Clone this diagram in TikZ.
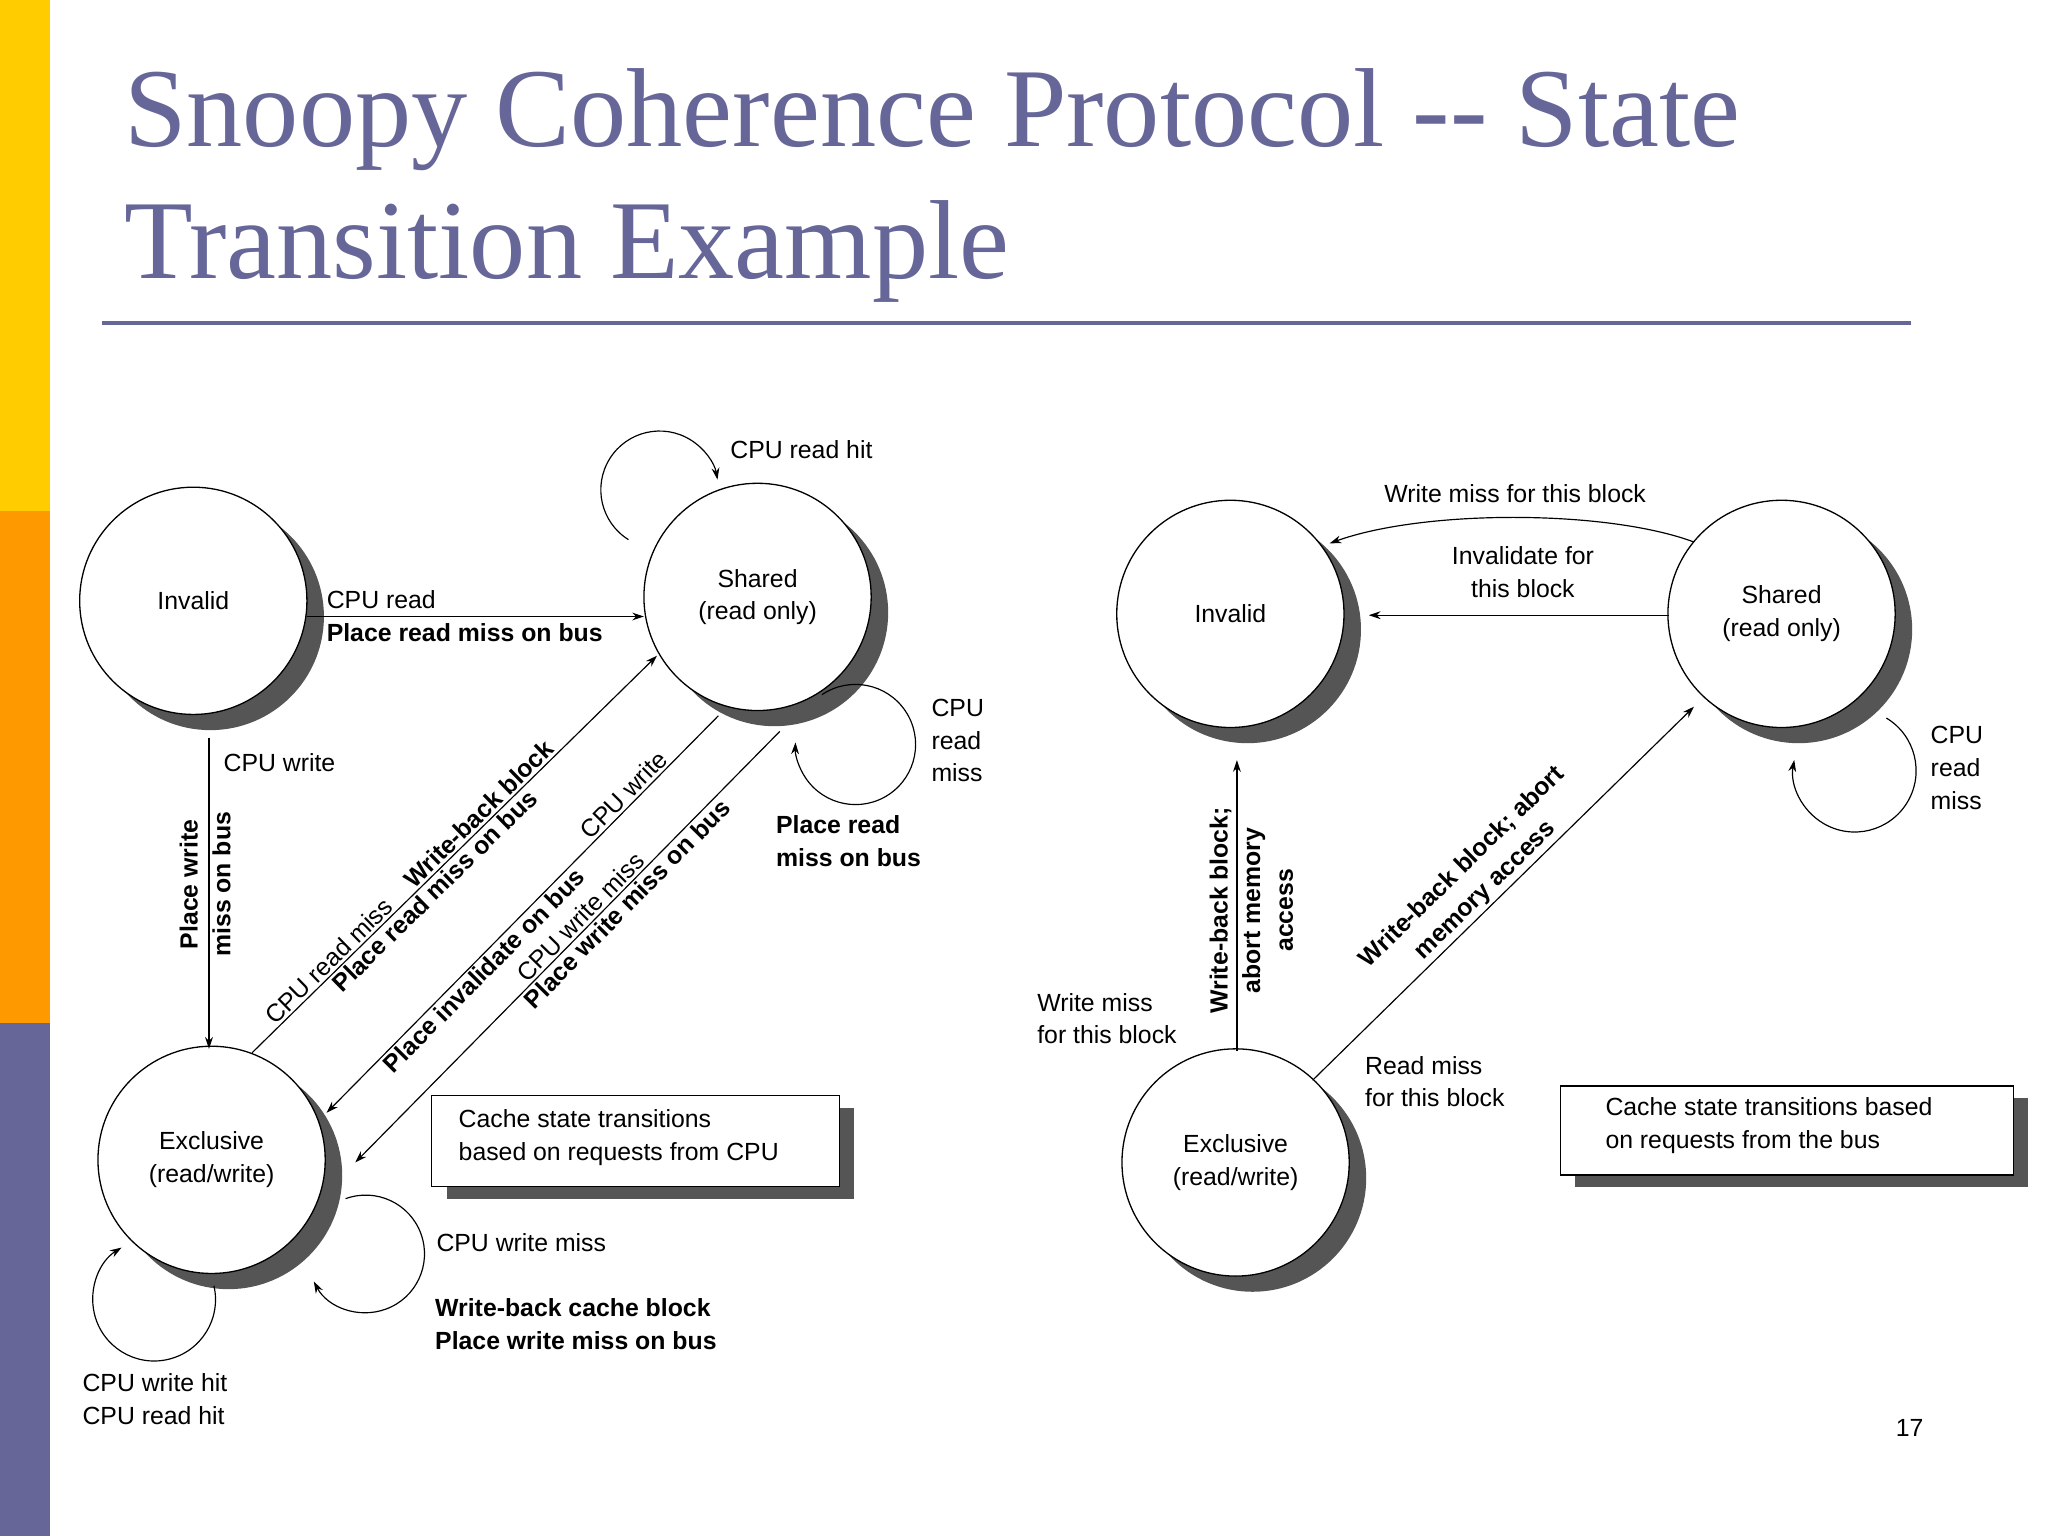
\documentclass[tikz,border=0pt]{standalone}
\usepackage{fontspec}
\setmainfont{Liberation Sans}
\newfontfamily\titlefont{Liberation Serif}
\usetikzlibrary{arrows.meta,calc}
\definecolor{slate}{HTML}{666699}
\definecolor{shadowgray}{HTML}{555555}
\definecolor{baryellow}{HTML}{FFCC00}
\definecolor{barorange}{HTML}{FF9900}
\begin{document}
\begin{tikzpicture}[x=1pt,y=-1pt,
  lbl/.style={font=\fontsize{19}{25}\selectfont,inner sep=1pt},
  blbl/.style={font=\fontsize{19}{25}\selectfont\bfseries,inner sep=1pt},
  arr/.style={-{Stealth[length=9pt,width=6pt]},line width=0.9pt},
  state/.style={circle,draw,line width=1pt,fill=white,minimum size=174pt,inner sep=0pt,align=center,font=\fontsize{19}{25}\selectfont},
  shadowc/.style={circle,fill=shadowgray,minimum size=174pt,inner sep=0pt}]
\useasboundingbox (0,0) rectangle (1568,1176);
\fill[white] (0,0) rectangle (1568,1176);
\fill[baryellow] (0,0) rectangle (38,391);
\fill[barorange] (0,391) rectangle (38,783);
\fill[slate] (0,783) rectangle (38,1176);
\node[anchor=base west,text=slate,font=\fontsize{86}{103}\titlefont,inner sep=0pt] (t1) at (95,112) {Snoopy Coherence Protocol -- State};
\node[anchor=base west,text=slate,font=\fontsize{86}{103}\titlefont,inner sep=0pt] (t2) at (95,213) {Transition Example};
\draw[slate,line width=3pt] (78,247) -- (1463,247);
% shadows
\foreach \px/\py in {148/460,580/457,162/888,942/470,1364/470,946/890}
  \node[shadowc] at (\px+13,\py+12) {};
\node[state] (inv) at (148,460) {Invalid};
\node[state] (sh) at (580,457) {Shared\\(read only)};
\node[state] (ex) at (162,888) {Exclusive\\(read/write)};
\node[state] (rinv) at (942,470) {Invalid};
\node[state] (rsh) at (1364,470) {Shared\\(read only)};
\node[state] (rex) at (946,890) {Exclusive\\(read/write)};
% left arrows
\coordinate (a1) at (235,472); \coordinate (a2) at (493,472);
\draw[arr] (a1) -- (a2);
\node[lbl,anchor=base west] (l1) at (249,466) {CPU read};
\node[blbl,anchor=base west] (l2) at (249,491) {Place read miss on bus};
\coordinate (b1) at (160,565); \coordinate (b2) at (160,803);
\draw[arr] (b1) -- (b2);
\node[lbl,anchor=base west] (l3) at (170,591) {CPU write};
\node[blbl,rotate=90,align=center] (l4) at (157,677) {Place write\\miss on bus};
\coordinate (c1) at (193,806); \coordinate (c2) at (503,502);
\draw[arr] (c1) -- (c2);
\path (c1) -- (c2) node[lbl,pos=.21,sloped,above=1pt] {CPU read miss}
  node[blbl,pos=.58,sloped,above=1pt] {Write-back block}
  node[blbl,pos=.43,sloped,below=1pt] {Place read miss on bus};
\coordinate (d1) at (550,548); \coordinate (d2) at (250,852);
\draw[arr] (d1) -- (d2);
\path (d1) -- (d2) node[lbl,pos=.22,sloped,above=1pt] {CPU write}
  node[blbl,pos=.62,sloped,below=1pt] {Place invalidate on bus};
\coordinate (e1) at (597,560); \coordinate (e2) at (272,890);
\draw[arr] (e1) -- (e2);
\path (e1) -- (e2) node[lbl,pos=.45,sloped,above=1pt] {CPU write miss}
  node[blbl,pos=.38,sloped,below=1pt] {Place write miss on bus};
% loops left
\coordinate (lp1) at (505,375);
\draw[arr] ($(lp1)+(122:45)$) arc[start angle=122,end angle=350,radius=45];
\node[lbl,anchor=base west] (l5) at (558,351) {CPU read hit};
\coordinate (lp2) at (655,570);
\draw[arr] ($(lp2)+(236:46)$) arc[start angle=236,end angle=542,radius=46];
\node[lbl,anchor=west,align=left] (l6) at (712,567) {CPU\\read\\miss};
\node[blbl,anchor=west,align=left] (l7) at (593,644) {Place read\\miss on bus};
\coordinate (lp3) at (280,960);
\draw[arr] ($(lp3)+(250:45)$) arc[start angle=250,end angle=512,radius=45];
\node[lbl,anchor=base west] (l8) at (333,958) {CPU write miss};
\node[blbl,anchor=west,align=left] (l9) at (332,1014) {Write-back cache block\\Place write miss on bus};
\coordinate (lp4) at (118,995);
\draw[arr] ($(lp4)+(347:47)$) arc[start angle=347,end angle=598,radius=47];
\node[lbl,anchor=west,align=left] (l10) at (62,1071) {CPU write hit\\CPU read hit};
% box left
\fill[shadowgray] (342,848) rectangle (654,918);
\node[draw,fill=white,line width=1pt,minimum width=312pt,minimum height=70pt,anchor=north west,inner sep=0pt] (box1) at (330,838) {};
\node[lbl,align=left,anchor=west] at (350,871) {Cache state transitions\\based on requests from CPU};
% right arrows
\coordinate (f1) at (1297,415); \coordinate (f2) at (1018,416);
\draw[arr] (f1) .. controls (1230,390) and (1090,390) .. (f2);
\node[lbl,anchor=base] (r1) at (1160,385) {Write miss for this block};
\coordinate (g1) at (1278,471); \coordinate (g2) at (1048,471);
\draw[arr] (g1) -- (g2);
\node[lbl,align=center] (r2) at (1166,438) {Invalidate for\\this block};
\coordinate (h1) at (947,805); \coordinate (h2) at (947,582);
\draw[arr] (h1) -- (h2);
\node[blbl,rotate=90,align=center] (r3) at (958,697) {Write-back block;\\abort memory\\access};
\node[lbl,align=left,anchor=west] (r4) at (793,780) {Write miss\\for this block};
\coordinate (k1) at (1005,827); \coordinate (k2) at (1297,541);
\draw[arr] (k1) -- (k2);
\path (k1) -- (k2) node[blbl,pos=.48,sloped,above=1pt,align=center] {Write-back block; abort\\memory access};
\node[lbl,align=left,anchor=west] (r5) at (1044,828) {Read miss\\for this block};
\coordinate (lp5) at (1420,590);
\draw[arr] ($(lp5)+(301:47)$) arc[start angle=301,end angle=550,radius=47];
\node[lbl,anchor=west,align=left] (r6) at (1477,588) {CPU\\read\\miss};
\fill[shadowgray] (1206,841) rectangle (1553,909);
\node[draw,fill=white,line width=1pt,minimum width=347pt,minimum height=68pt,anchor=north west,inner sep=0pt] (box2) at (1194,831) {};
\node[lbl,align=left,anchor=west] at (1228,862) {Cache state transitions based\\on requests from the bus};
\node[lbl,anchor=base] (pg) at (1462,1100) {17};
\end{tikzpicture}
\end{document}
